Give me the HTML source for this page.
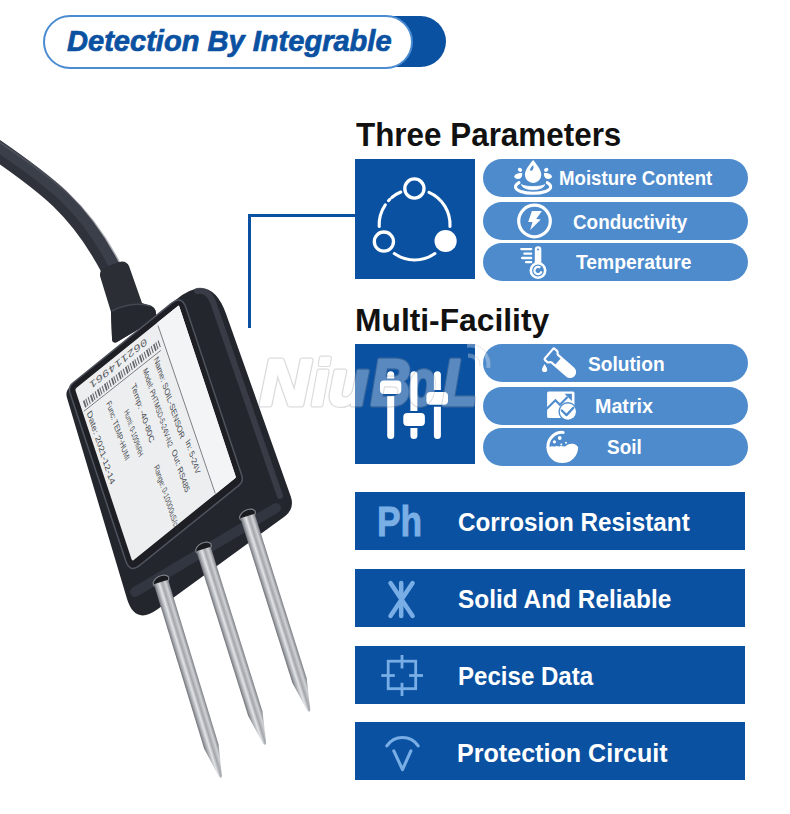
<!DOCTYPE html>
<html><head><meta charset="utf-8">
<style>
html,body{margin:0;padding:0;background:#fff;}
body{width:790px;height:814px;position:relative;overflow:hidden;font-family:"Liberation Sans",sans-serif;}
.abs{position:absolute;}
.t{position:absolute;white-space:nowrap;font-weight:bold;line-height:1;transform-origin:0 0;}
.sq{position:absolute;left:355px;width:120px;height:120px;background:#0b51a1;}
.pill{position:absolute;left:483px;width:265px;height:38px;border-radius:19px;background:#4d8bcd;}
.bar{position:absolute;left:355px;width:390px;height:58px;background:#0b51a1;}
.wt{color:#fff;}
</style></head>
<body>

<!-- sensor photo -->
<svg class="abs" style="left:0;top:0" width="790" height="814" viewBox="0 0 790 814">
<defs>
<linearGradient id="rod" x1="0" y1="0" x2="1" y2="0">
<stop offset="0" stop-color="#6f7278"/><stop offset="0.18" stop-color="#aeb1b6"/><stop offset="0.36" stop-color="#e2e4e7"/><stop offset="0.55" stop-color="#a2a5aa"/><stop offset="0.78" stop-color="#d0d2d6"/><stop offset="1" stop-color="#7b7e84"/>
</linearGradient>
<linearGradient id="lbl" x1="0" y1="0" x2="1" y2="0">
<stop offset="0" stop-color="#e3e4e6"/><stop offset="1" stop-color="#f2f3f4"/>
</linearGradient>
</defs>
<!-- cable -->
<path d="M-12,144 C48,184.8 79.8,209 111,269" fill="none" stroke="#2f323a" stroke-width="20"/>
<path d="M-11,141 C50,181.5 83,206 114,266" fill="none" stroke="#3b3f49" stroke-width="10"/>
<path d="M-9,136.5 C53,177 88,202.5 119,262" fill="none" stroke="#5f6470" stroke-width="2" opacity="0.5"/>
<!-- sleeve -->
<path d="M100,276 Q99,270 106,267 L119,262 Q126,260 129,266 L142,303 L151,306 Q156,308 156,314 L157,318 L117,342 Q112,344 112,338 L111,312 Z" fill="#2b2e35"/>
<path d="M111,312 Q130,302 151,306 Q156,308 156,314 L157,318 L117,342 Q112,344 112,338 Z" fill="#25282e"/>
<path d="M112,311 Q131,301 151,306" fill="none" stroke="#4a4e58" stroke-width="1.5" opacity="0.8"/>
<!-- body silhouette -->
<path d="M70.1,386.9 L175.6,299.9 Q210.9,270.9 226.1,314.0 L290.7,496.2 Q295.1,508.8 284.3,516.7 L157.9,609.1 Q135.0,625.8 126.9,598.6 L66.9,397.5 Q65.0,391.1 70.1,386.9 Z" fill="#23262d"/>
<!-- right side face band -->
<path d="M197,291 Q208,289 213,302 L280,496" fill="none" stroke="#3d414c" stroke-width="6" stroke-linecap="round" opacity="0.85"/>
<!-- bottom face -->
<path d="M135,592 L276,508" fill="none" stroke="#343843" stroke-width="10" stroke-linecap="round" opacity="0.9"/>
<!-- front frame -->
<path d="M72.8,383.0 L171.7,303.2 Q181.8,295.1 185.9,307.4 L241.8,475.6 Q243.7,481.5 238.9,485.4 L140.0,565.2 Q129.9,573.4 125.8,561.1 L70.0,392.9 Q68.0,386.9 72.8,383.0 Z" fill="#1d1f25" stroke="#4e535e" stroke-width="1.5"/>
<g transform="matrix(0.778 -0.628 0.31503 0.94908 75 389.0)">
<rect x="0" y="0" width="133.5" height="181.5" rx="2" fill="#eceef0"/>
<rect x="106" y="0" width="27.5" height="181.5" fill="#f3f4f5"/>
<g font-family="Liberation Sans" font-size="8.5" fill="#2a2c31" opacity="0.85"><text transform="translate(3.8 28) rotate(90)" textLength="76" lengthAdjust="spacingAndGlyphs">Date: 2021-12-14</text><text transform="translate(26.8 33) rotate(90)" textLength="61" lengthAdjust="spacingAndGlyphs">Func: TEMP-HUMI</text><text transform="translate(41.8 52) rotate(90)" textLength="48" lengthAdjust="spacingAndGlyphs">Humi: 0-100%RH</text><text transform="translate(57.8 35) rotate(90)" textLength="61" lengthAdjust="spacingAndGlyphs">Temp: -40-80C</text><text transform="translate(74.8 30) rotate(90)" textLength="82" lengthAdjust="spacingAndGlyphs">Model: PHTMSD-5-24V-N2</text><text transform="translate(89.8 28) rotate(90)" textLength="85" lengthAdjust="spacingAndGlyphs">Name: SOIL-SENSOR</text><text transform="translate(93.8 118) rotate(90)" textLength="35" lengthAdjust="spacingAndGlyphs">In: 5-24V</text><text transform="translate(76.8 117) rotate(90)" textLength="44" lengthAdjust="spacingAndGlyphs">Out: RS485</text><text transform="translate(53.8 118) rotate(90)" textLength="69" lengthAdjust="spacingAndGlyphs">Range: 0-10000uS/cm</text></g>
<g fill="#3f4146" opacity="0.8"><rect x="4.0" y="15.5" width="1.8" height="7"/><rect x="7.0" y="15.5" width="1.1" height="7"/><rect x="10.0" y="15.5" width="1.1" height="7"/><rect x="13.0" y="15.5" width="1.8" height="7"/><rect x="16.0" y="15.5" width="1.1" height="7"/><rect x="19.0" y="15.5" width="1.1" height="7"/><rect x="22.0" y="15.5" width="1.8" height="7"/><rect x="25.0" y="15.5" width="1.1" height="7"/><rect x="28.0" y="15.5" width="1.1" height="7"/><rect x="31.0" y="15.5" width="1.8" height="7"/><rect x="34.0" y="15.5" width="1.1" height="7"/><rect x="37.0" y="15.5" width="1.1" height="7"/><rect x="40.0" y="15.5" width="1.8" height="7"/><rect x="43.0" y="15.5" width="1.1" height="7"/><rect x="46.0" y="15.5" width="1.1" height="7"/><rect x="49.0" y="15.5" width="1.8" height="7"/><rect x="52.0" y="15.5" width="1.1" height="7"/><rect x="55.0" y="15.5" width="1.1" height="7"/><rect x="58.0" y="15.5" width="1.8" height="7"/><rect x="61.0" y="15.5" width="1.1" height="7"/><rect x="64.0" y="15.5" width="1.1" height="7"/><rect x="67.0" y="15.5" width="1.8" height="7"/><rect x="70.0" y="15.5" width="1.1" height="7"/><rect x="73.0" y="15.5" width="1.1" height="7"/><rect x="76.0" y="15.5" width="1.8" height="7"/><rect x="79.0" y="15.5" width="1.1" height="7"/><rect x="82.0" y="15.5" width="1.1" height="7"/><rect x="85.0" y="15.5" width="1.8" height="7"/><rect x="88.0" y="15.5" width="1.1" height="7"/><rect x="91.0" y="15.5" width="1.1" height="7"/><rect x="94.0" y="15.5" width="1.8" height="7"/><rect x="97.0" y="15.5" width="1.1" height="7"/><rect x="100.0" y="15.5" width="1.1" height="7"/></g>
<text x="16" y="12.5" textLength="73" lengthAdjust="spacingAndGlyphs" transform="rotate(180 52.5 8.5)" font-family="Liberation Mono" font-size="10" fill="#3a3c40" opacity="0.8">062114961</text>
<line x1="1.5" y1="24.5" x2="100" y2="25.5" stroke="#5a5c60" stroke-width="0.7"/>
<line x1="105.5" y1="3" x2="107" y2="181" stroke="#5a5c60" stroke-width="0.7"/>
</g>
<!-- probe nuts -->
<g fill="#191b1f" stroke="#7d8189" stroke-width="1.2">
<ellipse cx="161" cy="581" rx="8.5" ry="5" transform="rotate(-28 161 581)"/>
<ellipse cx="203.5" cy="548" rx="8.5" ry="5" transform="rotate(-28 203.5 548)"/>
<ellipse cx="247.5" cy="515" rx="8.5" ry="5" transform="rotate(-28 247.5 515)"/>
</g>
<g transform="translate(161 582) rotate(-17.02)">
<path d="M-7.5,0 L7.5,0 L7.5,172.0 L1.6,203.0 Q0,206.5 -1.6,203.0 L-7.5,172.0 Z" fill="url(#rod)"/>
</g><g transform="translate(203.5 549) rotate(-17.47)">
<path d="M-7.5,0 L7.5,0 L7.5,172.5 L1.6,203.5 Q0,207.0 -1.6,203.5 L-7.5,172.5 Z" fill="url(#rod)"/>
</g><g transform="translate(247.5 516) rotate(-17.54)">
<path d="M-7.5,0 L7.5,0 L7.5,172.4 L1.6,203.4 Q0,206.9 -1.6,203.4 L-7.5,172.4 Z" fill="url(#rod)"/>
</g>
</svg>

<!-- header -->
<div class="abs" style="left:300px;top:16px;width:146px;height:51px;border-radius:26px;background:#0b51a1;"></div>
<div class="abs" style="left:43px;top:14.5px;width:369.5px;height:54.5px;box-sizing:border-box;border:2.6px solid #4a8bd2;border-radius:27.25px;background:#fff;"></div>
<div id="hdr" class="t" style="left:67.00px;top:26.91px;font-size:29.07px;font-style:italic;color:#0b51a1;-webkit-text-stroke:0.7px #0b51a1;transform:scaleX(1.0000);">Detection By Integrable</div>

<!-- connector -->
<div class="abs" style="left:248px;top:214px;width:3px;height:114px;background:#0b51a1;"></div>
<div class="abs" style="left:248px;top:214px;width:108px;height:3px;background:#0b51a1;"></div>

<!-- Three Parameters -->
<div id="three" class="t" style="left:355.60px;top:119.41px;font-size:32.41px;color:#111;transform:scaleX(0.9690);">Three Parameters</div>
<div class="sq" style="top:159px;"></div>
<div class="pill" style="top:159px;"></div>
<div class="pill" style="top:202px;"></div>
<div class="pill" style="top:243px;"></div>
<div id="moist" class="t wt" style="left:559.26px;top:169.30px;font-size:19.77px;transform:scaleX(0.9431);">Moisture Content</div>
<div id="cond" class="t wt" style="left:572.65px;top:213.30px;font-size:19.77px;transform:scaleX(0.9544);">Conductivity</div>
<div id="temp" class="t wt" style="left:575.80px;top:253.00px;font-size:19.77px;transform:scaleX(0.9763);">Temperature</div>

<!-- Multi-Facility -->
<div id="multi" class="t" style="left:354.83px;top:304.41px;font-size:31.98px;color:#111;transform:scaleX(0.9940);">Multi-Facility</div>
<div class="sq" style="top:344px;"></div>
<div class="pill" style="top:344px;"></div>
<div class="pill" style="top:387px;"></div>
<div class="pill" style="top:428px;"></div>
<div id="sol" class="t wt" style="left:588.24px;top:354.50px;font-size:19.77px;transform:scaleX(0.9688);">Solution</div>
<div id="mat" class="t wt" style="left:594.99px;top:396.50px;font-size:19.77px;transform:scaleX(0.9967);">Matrix</div>
<div id="soil" class="t wt" style="left:606.83px;top:438.00px;font-size:19.77px;transform:scaleX(0.9594);">Soil</div>

<!-- bars -->
<div class="bar" style="top:492px;"></div>
<div class="bar" style="top:569px;"></div>
<div class="bar" style="top:646px;"></div>
<div class="bar" style="top:722px;"></div>
<div id="corr" class="t wt" style="left:457.88px;top:508.50px;font-size:26.45px;transform:scaleX(0.9171);">Corrosion Resistant</div>
<div id="solid" class="t wt" style="left:457.67px;top:586.00px;font-size:26.45px;transform:scaleX(0.9233);">Solid And Reliable</div>
<div id="pec" class="t wt" style="left:457.57px;top:662.61px;font-size:26.45px;transform:scaleX(0.9101);">Pecise Data</div>
<div id="prot" class="t wt" style="left:457.32px;top:740.41px;font-size:26.45px;transform:scaleX(0.9492);">Protection Circuit</div>
<div id="ph" class="t" style="left:376.92px;top:500.00px;font-size:42.88px;color:#7aafe6;-webkit-text-stroke:0.9px #7aafe6;transform:scaleX(0.8253);">Ph</div>


<!-- icon: network -->
<svg class="abs" style="left:355px;top:159px" width="120" height="120" viewBox="0 0 120 120">
<g fill="none" stroke="#fff" stroke-width="3.1" stroke-linecap="round">
<path d="M74.0,33.3 A35.4,35.4 0 0 1 95.0,67.5"/>
<path d="M79.9,94.6 A35.4,35.4 0 0 1 39.3,94.6"/>
<path d="M24.2,67.5 A35.4,35.4 0 0 1 30.3,45.8"/>
<path d="M33.5,41.7 A35.4,35.4 0 0 1 34.8,40.4"/>
<path d="M36.8,38.5 A35.4,35.4 0 0 1 45.8,33.0"/>
<circle cx="59.4" cy="29.5" r="9.6" stroke-width="3.3"/>
<circle cx="28.9" cy="82.6" r="9.6" stroke-width="3.3"/>
</g>
<circle cx="90.6" cy="82" r="11.1" fill="#fff"/>
</svg>

<!-- icon: sliders -->
<svg class="abs" style="left:355px;top:344px" width="120" height="120" viewBox="0 0 120 120">
<g stroke="#fff" stroke-width="7" stroke-linecap="round">
<line x1="35.7" y1="30.8" x2="35.7" y2="91.5"/>
<line x1="58.9" y1="30.8" x2="58.9" y2="91.5"/>
<line x1="82.4" y1="30.8" x2="82.4" y2="91.5"/>
</g>
<g fill="#fff" stroke="#0b51a1" stroke-width="2">
<rect x="24" y="35.5" width="23.3" height="15.6" rx="5"/>
<rect x="47.3" y="68.1" width="23.6" height="14.9" rx="5"/>
<rect x="70.4" y="46.9" width="23.6" height="14.9" rx="5"/>
</g>
</svg>

<!-- icon: drop -->
<svg class="abs" style="left:508px;top:156px" width="50" height="44" viewBox="0 0 50 44">
<path d="M25.1,3.9 C21.8,8 16.9,13.7 16.9,18.7 A8.2,8.2 0 0 0 33.3,18.7 C33.3,13.7 28.4,8 25.1,3.9 Z" fill="#fff"/>
<path d="M25,9.3 C23.2,10.8 22,12.8 22.1,14.3 C22.8,15.3 24.3,14.8 25,13.3 C25.8,11.8 25.7,10.3 25,9.3 Z" fill="#4d8bcd"/>
<ellipse cx="12" cy="13.8" rx="2.3" ry="1.9" transform="rotate(35 12 13.8)" fill="#fff"/>
<path d="M14.2,17 C11,16.5 6.5,18 6.3,20.5 C6.2,22.5 9,23.3 11.5,22.8 C13.5,22.3 14.5,20 14.2,17 Z" fill="#fff"/>
<ellipse cx="38.2" cy="13.8" rx="2.3" ry="1.9" transform="rotate(-35 38.2 13.8)" fill="#fff"/>
<path d="M36,17 C39.2,16.5 43.7,18 43.9,20.5 C44,22.5 41.2,23.3 38.7,22.8 C36.7,22.3 35.7,20 36,17 Z" fill="#fff"/>
<path d="M11,26.6 C8.5,27.8 7.5,29.5 7.5,31 C7.5,34.5 15.5,37.3 25.1,37.3 C34.7,37.3 42.7,34.5 42.7,31 C42.7,29.5 41.7,27.8 39.2,26.6" fill="none" stroke="#fff" stroke-width="3" stroke-linecap="round"/>
<path d="M13.5,28.6 C17,31.2 33.2,31.2 36.7,28.6 C36,31.8 31,33.7 25.1,33.7 C19.2,33.7 14.2,31.8 13.5,28.6 Z" fill="#fff" stroke="#fff" stroke-width="0.8" stroke-linejoin="round"/>
</svg>

<!-- icon: bolt -->
<svg class="abs" style="left:508px;top:200px" width="50" height="44" viewBox="0 0 50 44">
<circle cx="26.5" cy="21" r="15.8" fill="none" stroke="#fff" stroke-width="3.2"/>
<path d="M23.9,11.1 L33.9,11.1 L28.2,19.1 L32.8,19.4 L22.2,29.9 L24.5,21.9 L20.2,21.9 Z" fill="#fff"/>
</svg>

<!-- icon: thermometer -->
<svg class="abs" style="left:508px;top:240px" width="50" height="44" viewBox="0 0 50 44">
<rect x="26.8" y="6.3" width="6.5" height="20" rx="3.25" fill="#fff"/>
<circle cx="30" cy="9.6" r="1" fill="#4d8bcd"/>
<circle cx="30" cy="30.5" r="7.2" fill="#4d8bcd" stroke="#fff" stroke-width="2.6"/>
<path d="M32.3,27.7 A3.6,3.6 0 1 0 33.5,31.4" fill="none" stroke="#fff" stroke-width="2.2"/>
<g stroke="#fff" stroke-width="2.3" stroke-linecap="round">
<line x1="13.3" y1="9.1" x2="23.2" y2="9.1"/>
<line x1="16.4" y1="13.7" x2="23.2" y2="13.7"/>
<line x1="14.1" y1="18" x2="23.2" y2="18"/>
<line x1="18.1" y1="22.2" x2="23.2" y2="22.2"/>
</g>
</svg>

<!-- icon: test tube -->
<svg class="abs" style="left:536px;top:342px" width="50" height="44" viewBox="0 0 50 44">
<g transform="translate(15.2 13.6) rotate(-49)">
<path d="M-5,9 L5,9 L5,25 A5,5 0 0 1 -5,25 Z" fill="#fff"/>
<path d="M-5,5 L-5,25 A5,5 0 0 0 5,25 L5,5 Q5,3.6 6.3,3 Q7.4,2.4 7.4,1 L7.4,-1.6 Q7.4,-3 6,-3 L-6,-3 Q-7.4,-3 -7.4,-1.6 L-7.4,1 Q-7.4,2.4 -6.3,3 Q-5,3.6 -5,5 Z" fill="none" stroke="#fff" stroke-width="2.2" stroke-linejoin="round"/>
</g>
<path d="M8.5,22 C7.5,24 6,26 6,27.5 A2.6,2.6 0 0 0 11.2,27.5 C11.2,26 9.7,24 8.5,22 Z" fill="#fff"/>
</svg>

<!-- icon: matrix -->
<svg class="abs" style="left:536px;top:386px" width="50" height="40" viewBox="0 0 50 40">
<rect x="11.1" y="5.4" width="27.4" height="26.5" rx="1.5" fill="#fff"/>
<path d="M10.5,23 L19.4,14.2 L23.9,18.8 L31.5,11" fill="none" stroke="#4d8bcd" stroke-width="2.1"/>
<path d="M28.5,7.7 L35.9,7.7 L35.9,15.1 Z" fill="#4d8bcd"/>
<circle cx="31.9" cy="25.6" r="9.5" fill="#4d8bcd"/>
<circle cx="31.9" cy="25.6" r="8.1" fill="#fff"/>
<path d="M25.8,24.5 L30.5,29.1 L37.4,21.8" fill="none" stroke="#4d8bcd" stroke-width="2.3" stroke-linecap="round" stroke-linejoin="round"/>
</svg>

<!-- icon: soil -->
<svg class="abs" style="left:536px;top:426px" width="50" height="42" viewBox="0 0 50 42">
<path d="M27.2,6.4 A14.35,14.35 0 0 0 11.95,21.2" fill="none" stroke="#fff" stroke-width="3" stroke-linecap="round"/>
<path d="M10.45,21.2 C12,20 13.5,21.5 15,20.5 C16.5,19.5 18,21.2 19.5,20.3 C21,19.4 22.5,21 24,20.2 C25.5,19.4 27,20.8 29,20.5 C31,18.5 34,17.2 37,17.8 C39.5,18.3 41,19.5 42.15,21.2 A15.85,15.85 0 0 1 10.45,21.2 Z" fill="#fff"/>
<circle cx="23.7" cy="12" r="1.9" fill="#fff"/>
<circle cx="18.4" cy="15.8" r="1.6" fill="#fff"/>
<circle cx="25.3" cy="18.4" r="1" fill="#fff"/>
<circle cx="30" cy="16.8" r="1" fill="#fff"/>
</svg>

<!-- bar icons -->
<svg class="abs" style="left:375px;top:569px" width="55" height="60" viewBox="0 0 55 60">
<g stroke="#78aee5" stroke-width="4.5" stroke-linecap="round">
<line x1="15.5" y1="14" x2="37.6" y2="47"/>
<line x1="37.6" y1="14" x2="15.5" y2="47"/>
<line x1="26.2" y1="14" x2="26.2" y2="47"/>
</g>
</svg>
<svg class="abs" style="left:375px;top:648px" width="55" height="55" viewBox="0 0 55 55">
<g fill="none" stroke="#78aee5" stroke-width="2.8">
<rect x="13.2" y="13.2" width="27.5" height="27.5"/>
<line x1="27" y1="7" x2="27" y2="20.5"/>
<line x1="27" y1="34.8" x2="27" y2="48"/>
<line x1="6.3" y1="27.5" x2="19.8" y2="27.5"/>
<line x1="34.1" y1="27.5" x2="48" y2="27.5"/>
</g>
</svg>
<svg class="abs" style="left:375px;top:725px" width="55" height="55" viewBox="0 0 55 55">
<g fill="none" stroke="#78aee5" stroke-width="3.1" stroke-linecap="round" stroke-linejoin="round">
<path d="M11.8,20.9 A18.9,18.9 0 0 1 43.2,20.9"/>
<path d="M18.8,25.8 L27.5,44.6 L35.9,25.8"/>
</g>
</svg>

<!-- watermark -->
<svg class="abs" style="left:0;top:0" width="790" height="814" viewBox="0 0 790 814">
<g opacity="0.32">
<g font-family="Liberation Sans" font-weight="bold" font-style="italic" font-size="64" fill="#8f9298" stroke="#8f9298" stroke-width="5" stroke-linejoin="round"><text transform="translate(261.0 405) scale(1.083 1)" x="-1.12" y="0">N</text><text transform="translate(312.7 405) scale(0.945 1)" x="-1.09" y="0">i</text><text transform="translate(331.0 405) scale(1.034 1)" x="-2.66" y="0">u</text><text transform="translate(372.0 405) scale(0.854 1)" x="-1.12" y="0">B</text><text transform="translate(410.0 405) scale(0.684 1)" x="-1.97" y="0">o</text><text transform="translate(443.5 405) scale(0.891 1)" x="-1.12" y="0">L</text></g>
<g font-family="Liberation Sans" font-weight="bold" font-style="italic" font-size="64" fill="#fff" stroke="#fff" stroke-width="2.6" stroke-linejoin="round"><text transform="translate(261.0 405) scale(1.083 1)" x="-1.12" y="0">N</text><text transform="translate(312.7 405) scale(0.945 1)" x="-1.09" y="0">i</text><text transform="translate(331.0 405) scale(1.034 1)" x="-2.66" y="0">u</text><text transform="translate(372.0 405) scale(0.854 1)" x="-1.12" y="0">B</text><text transform="translate(410.0 405) scale(0.684 1)" x="-1.97" y="0">o</text><text transform="translate(443.5 405) scale(0.891 1)" x="-1.12" y="0">L</text></g>
</g>
<g fill="none" stroke="#fff" stroke-opacity="0.3" stroke-width="3.5">
<path d="M468,356 A9,9 0 0 1 478,366"/>
<path d="M467,346 A19,19 0 0 1 488,368"/>
</g>
<g fill="none" stroke="#b9bcc2" stroke-opacity="0.5" stroke-width="0.8">
<path d="M468,354 A11,11 0 0 1 480,366"/>
<path d="M468,344 A21,21 0 0 1 490,368"/>
</g>
</svg>

</body></html>
